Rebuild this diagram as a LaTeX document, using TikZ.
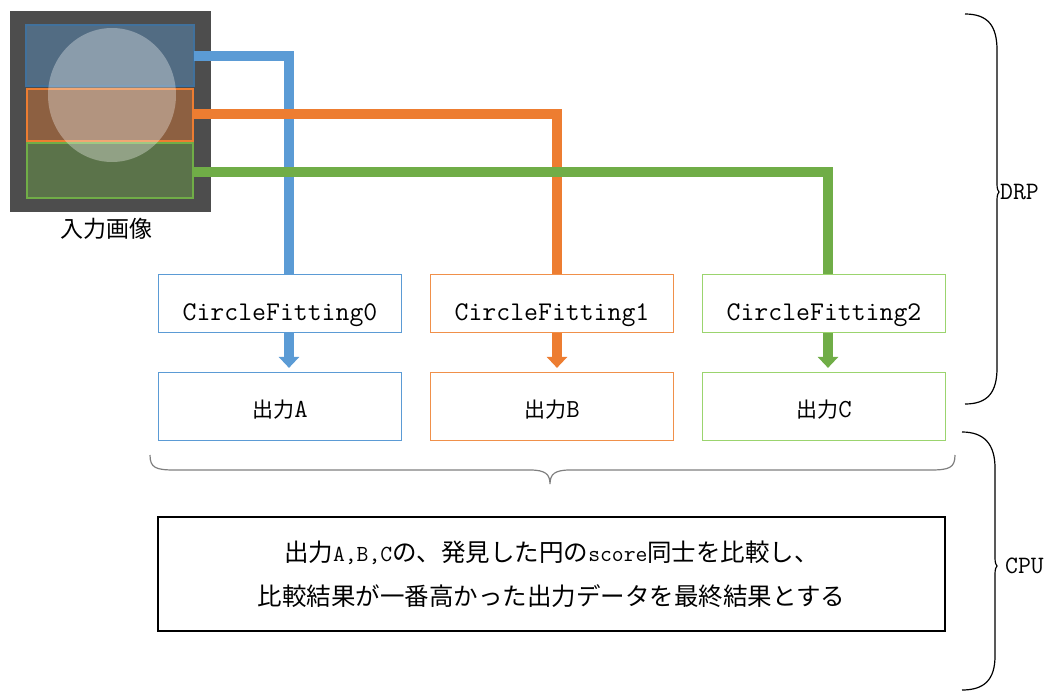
\documentclass[tikz,border=0pt]{standalone}
\usepackage{fontspec}
\newfontfamily\cjk{Noto Sans CJK JP}
\usetikzlibrary{arrows.meta}
\definecolor{cb}{HTML}{5B9BD5}
\definecolor{cbd}{HTML}{41719C}
\definecolor{co}{HTML}{ED7D31}
\definecolor{cg}{HTML}{70AD47}
\definecolor{cgl}{HTML}{9BD46E}
\definecolor{col}{HTML}{F0904A}
\definecolor{imgbg}{HTML}{4D4D4D}
\definecolor{brgray}{HTML}{7F7F7F}
\newcommand{\mt}[1]{{\fontsize{26}{26}\selectfont\ttfamily #1}}
\newcommand{\mts}[1]{{\fontsize{23}{23}\selectfont\ttfamily #1}}
\begin{document}
\begin{tikzpicture}[x=1pt,y=-1pt,
  fitbox/.style={draw, line width=1.2pt, fill=white, minimum width=243pt, minimum height=58pt, inner sep=0pt, font=\fontsize{27}{27}\selectfont\ttfamily},
  outbox/.style={draw, line width=1.2pt, fill=white, minimum width=243pt, minimum height=68pt, inner sep=0pt, font=\fontsize{21}{21}\selectfont\cjk},
  conn/.style={line width=10pt, line cap=butt},
  tip/.style={-{Triangle[width=20pt,length=11pt]}},
  brace/.style={line width=1.2pt, black},
  side/.style={font=\fontsize{25}{25}\selectfont\ttfamily, anchor=west, inner sep=0pt}
]
\useasboundingbox (0,0) rectangle (1049,693);
% input image
\fill[imgbg] (10,11) rectangle (211,212);
\filldraw[fill=cb, fill opacity=0.4, draw=cbd, line width=1.5pt] (26,25) rectangle (194,86);
\filldraw[fill=co, fill opacity=0.4, draw=co, line width=2.5pt] (27,89) rectangle (193,141);
\filldraw[fill=cg, fill opacity=0.4, draw=cg, line width=2pt] (27,143) rectangle (193,198);
\fill[white, fill opacity=0.33] (112,95) ellipse [x radius=64, y radius=67];
\node[font=\fontsize{23}{23}\selectfont\cjk, inner sep=0pt] (lbl) at (106,229) {入力画像};
\coordinate (pa) at (194,56);
\coordinate (pb) at (194,114);
\coordinate (pc) at (194,172);
% boxes
\node[fitbox, draw=cb] (cf0) at (280,303.5) {\smash{\raisebox{-17pt}{CircleFitting0}}};
\node[fitbox, draw=col] (cf1) at (552,303.5) {\smash{\raisebox{-17pt}{CircleFitting1}}};
\node[fitbox, draw=cgl] (cf2) at (824,303.5) {\smash{\raisebox{-17pt}{CircleFitting2}}};
\node[outbox, draw=cb] (oa) at (280,406.5) {\smash{\raisebox{-11pt}{出力\mt{A}}}};
\node[outbox, draw=col] (ob) at (552,406.5) {\smash{\raisebox{-11pt}{出力\mt{B}}}};
\node[outbox, draw=cgl] (oc) at (824,406.5) {\smash{\raisebox{-11pt}{出力\mt{C}}}};
% connectors
\draw[conn, cb] (pa) -| ([xshift=9pt]cf0.north);
\draw[conn, co] (pb) -| ([xshift=5pt]cf1.north);
\draw[conn, cg] (pc) -| ([xshift=4pt]cf2.north);
\draw[conn, cb, tip] ([xshift=9pt]cf0.south) -- ([xshift=9pt,yshift=4pt]oa.north);
\draw[conn, co, tip] ([xshift=5pt]cf1.south) -- ([xshift=5pt,yshift=4pt]ob.north);
\draw[conn, cg, tip] ([xshift=4pt]cf2.south) -- ([xshift=4pt,yshift=4pt]oc.north);
% bottom brace
\draw[line width=1.2pt, brgray] (150,455) .. controls (150,468) and (156,470) .. (175,470) -- (530,470) .. controls (545,470) and (550,474) .. (550,484) .. controls (550,474) and (555,470) .. (570,470) -- (930,470) .. controls (949,470) and (955,468) .. (955,455);
% result box
\node[draw, line width=1.2pt, minimum width=787pt, minimum height=114pt, inner sep=0pt, align=center, font=\fontsize{24.5}{44}\selectfont\cjk] (res) at (551.5,574) {%
\raisebox{-2pt}{出力\mts{A,B,C}の、発見した円の\mts{score}同士を比較し、}\\
\raisebox{-2pt}{比較結果が一番高かった出力データを最終結果とする}};
% side braces
\draw[brace] (965,14) .. controls (988,14) and (997,26) .. (997,50) -- (997,184) .. controls (997,189) and (998,191) .. (999,192) .. controls (998,193) and (997,195) .. (997,200) -- (997,368) .. controls (997,392) and (988,404) .. (965,404);
\node[side] (drp) at (1000,192) {DRP};
\draw[brace] (962,432) .. controls (984,432) and (995,444) .. (995,468) -- (995,558) .. controls (995,563) and (996,565) .. (997,566) .. controls (996,567) and (995,569) .. (995,574) -- (995,656) .. controls (995,680) and (984,690) .. (962,690);
\node[side] (cpu) at (1005,566) {CPU};
\end{tikzpicture}
\end{document}
